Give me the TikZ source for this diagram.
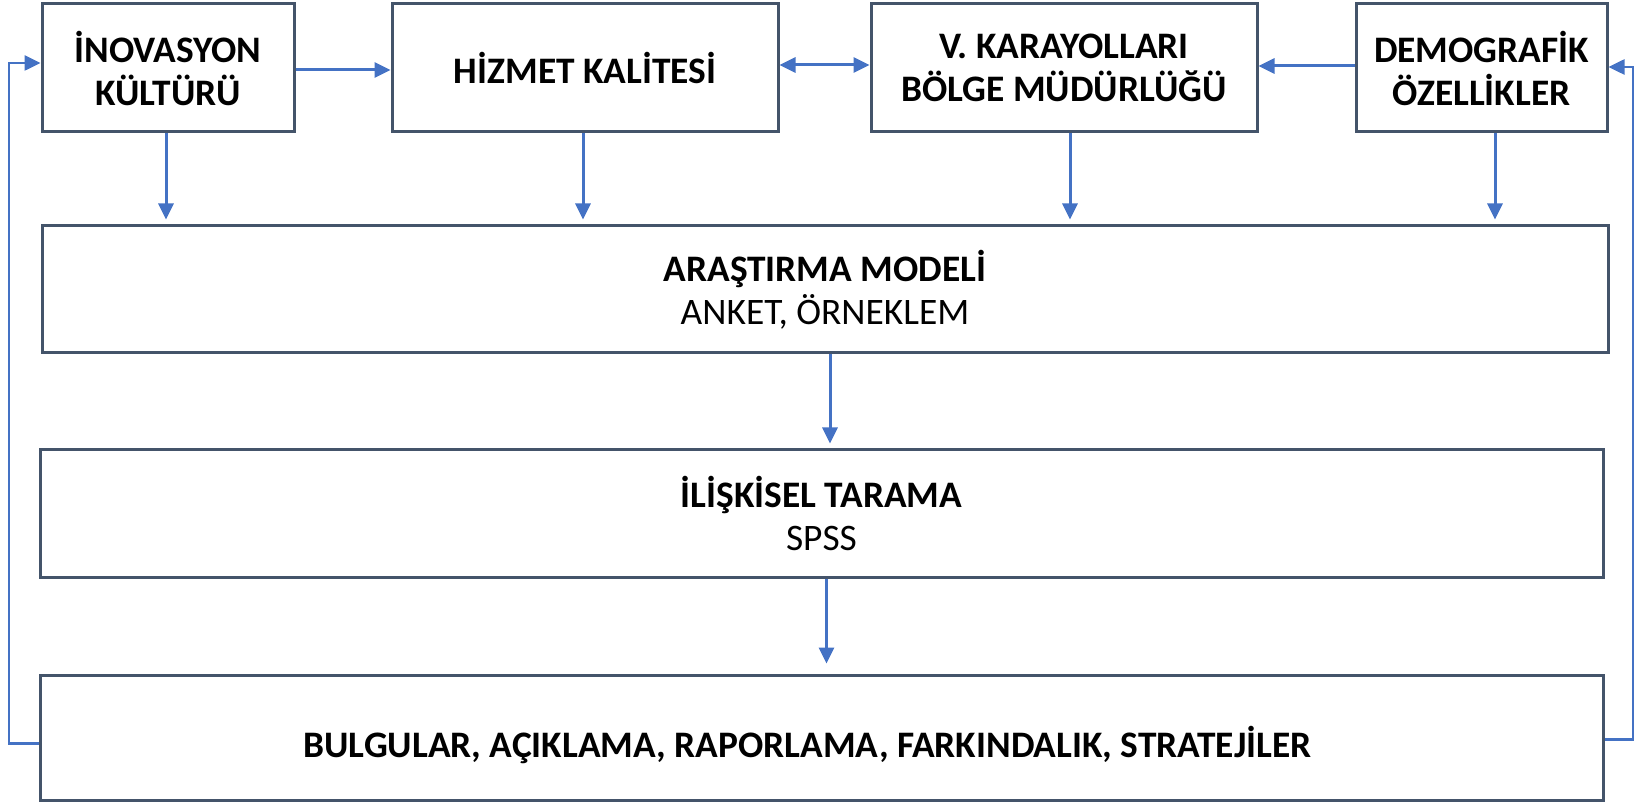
\documentclass[tikz,border=0pt]{standalone}
\usepackage{fontspec}
\setmainfont{Carlito}
\usetikzlibrary{arrows.meta,calc}
\definecolor{boxline}{HTML}{44546A}
\definecolor{arrblue}{HTML}{4472C4}
\begin{document}
\begin{tikzpicture}[x=1pt,y=1pt,
  box/.style={draw=boxline, line width=1.5pt, fill=white, rectangle, align=center, inner sep=0pt, font=\fontsize{18.7}{21.5}\selectfont\bfseries},
  arr/.style={draw=arrblue, line width=1.5pt, -{Triangle[length=8pt,width=7.5pt]}},
  darr/.style={draw=arrblue, line width=1.5pt, {Triangle[length=8pt,width=7.5pt]}-{Triangle[length=8pt,width=7.5pt]}},
  fb/.style={draw=arrblue, line width=1.3pt, -{Triangle[length=8pt,width=7.5pt]}}
]
\useasboundingbox (0,0) rectangle (820,-401);
\node[box, minimum width=126pt, minimum height=64pt] (b1) at (84,-34) {İNOVASYON\\KÜLTÜRÜ};
\node[box, minimum width=193pt, minimum height=64pt] (b2) at (292.5,-34) {HİZMET KALİTESİ};
\node[box, minimum width=193pt, minimum height=64pt] (b3) at (532,-34) {V. KARAYOLLARI\\BÖLGE MÜDÜRLÜĞÜ};
\node[box, minimum width=125.5pt, minimum height=64pt] (b4) at (740.75,-34) {DEMOGRAFİK\\ÖZELLİKLER};
\node[box, minimum width=783pt, minimum height=63.5pt] (arm) at (412.5,-144.75) {ARAŞTIRMA MODELİ\\{\mdseries ANKET, ÖRNEKLEM}};
\node[box, minimum width=781.5pt, minimum height=63.5pt] (ilk) at (410.75,-256.75) {İLİŞKİSEL TARAMA\\{\mdseries SPSS}};
\node[box, minimum width=781.5pt, minimum height=62.5pt] (bul) at (410.75,-368.75) {};
\node[font=\fontsize{18.7}{21.5}\selectfont\bfseries, inner sep=0pt] (bult) at ($(bul.center)+(-7,-3.75)$) {BULGULAR, AÇIKLAMA, RAPORLAMA, FARKINDALIK, STRATEJİLER};
\coordinate (lx) at (4.5,0);
\coordinate (rx) at (816.5,0);
% top row connectors
\draw[arr] ([yshift=-1pt]b1.east) -- ([yshift=-1pt]b2.west);
\draw[darr] ([yshift=1.5pt]b2.east) -- ([yshift=1.5pt]b3.west);
\draw[arr] ([yshift=1pt]b4.west) -- ([yshift=1pt]b3.east);
% down arrows
\draw[arr] ([xshift=-1pt]b1.south) -- ([xshift=-1pt,yshift=2.5pt]b1.south |- arm.north);
\draw[arr] ([xshift=-1pt]b2.south) -- ([xshift=-1pt,yshift=2.5pt]b2.south |- arm.north);
\draw[arr] ([xshift=3pt]b3.south) -- ([xshift=3pt,yshift=2.5pt]b3.south |- arm.north);
\draw[arr] ([xshift=6.75pt]b4.south) -- ([xshift=6.75pt,yshift=2.5pt]b4.south |- arm.north);
\draw[arr] ([xshift=2.5pt]arm.south) -- ([xshift=2.5pt,yshift=2.5pt]arm.south |- ilk.north);
\draw[arr] ([xshift=2.5pt]ilk.south) -- ([xshift=2.5pt,yshift=5pt]ilk.south |- bul.north);
% feedback loops
\draw[fb] ([yshift=-3pt]bul.west) -| ([yshift=2.5pt]lx |- b1.west) -- ([yshift=2.5pt]b1.west);
\draw[fb] ([yshift=-1pt]bul.east) -| ([yshift=0.5pt]rx |- b4.east) -- ([yshift=0.5pt]b4.east);
\end{tikzpicture}
\end{document}
